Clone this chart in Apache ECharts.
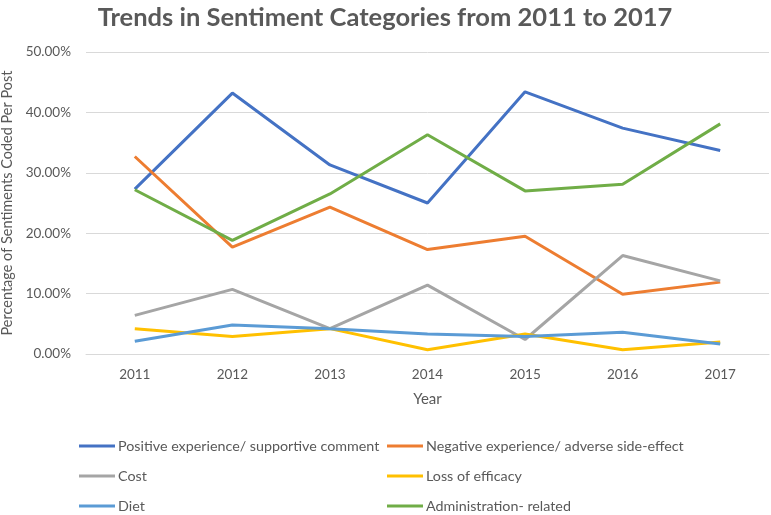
<!DOCTYPE html>
<html>
<head>
<meta charset="utf-8">
<script src="https://cdn.jsdelivr.net/npm/echarts@6/dist/echarts.min.js"></script>
<style>html,body{margin:0;padding:0;background:#fff}#c{width:771px;height:515px}</style>
</head>
<body>
<div id="c"></div>
<script>
const years = ['2011','2012','2013','2014','2015','2016','2017'];
const positive = [27.3, 43.2, 31.3, 25.0, 43.4, 37.4, 33.7];
const negative = [32.7, 17.7, 24.3, 17.3, 19.5, 9.9, 11.9];
const cost = [6.4, 10.7, 4.2, 11.4, 2.4, 16.3, 12.1];
const lossEfficacy = [4.2, 2.9, 4.2, 0.7, 3.3, 0.7, 2.0];
const diet = [2.1, 4.8, 4.2, 3.3, 2.9, 3.6, 1.65];
const admin = [27.2, 18.8, 26.5, 36.3, 27.0, 28.1, 38.1];
const names = ['Positive experience/ supportive comment','Negative experience/ adverse side-effect','Cost','Loss of efficacy','Diet','Administration- related'];
const colors = ['#4472C4','#ED7D31','#A5A5A5','#FFC000','#5B9BD5','#70AD47'];
const dataSets = [positive, negative, cost, lossEfficacy, diet, admin];
const font = 'Lato, "Open Sans", sans-serif';
const txt = '#595959';

const chart = echarts.init(document.getElementById('c'));
const legendBase = {
  orient: 'vertical', icon: 'rect', itemWidth: 36, itemHeight: 3, itemGap: 14,
  padding: 0, height: 80,
  textStyle: {fontFamily: font, fontSize: 14.3, lineHeight: 16, color: txt, padding: [0,0,0,-2]},
  selectedMode: false
};
chart.setOption({
  animation: false,
  color: colors,
  title: {
    text: 'Trends in Sentiment Categories from 2011 to 2017',
    left: 380, textAlign: 'center', top: 0,
    textStyle: {fontFamily: font, fontSize: 25.5, fontWeight: 'bold', color: txt}
  },
  grid: {left: 86, right: 2, top: 52, bottom: 161, outerBoundsMode: 'none', containLabel: false},
  legend: [
    Object.assign({}, legendBase, {left: 79, top: 438, data: [names[0], names[2], names[4]]}),
    Object.assign({}, legendBase, {left: 387, top: 438, data: [names[1], names[3], names[5]]})
  ],
  xAxis: {
    type: 'category', data: years, boundaryGap: true,
    name: 'Year', nameLocation: 'middle', nameGap: 38,
    nameTextStyle: {fontFamily: font, fontSize: 15, color: txt},
    axisLine: {lineStyle: {color: '#d9d9d9'}},
    axisTick: {show: false},
    axisLabel: {fontFamily: font, fontSize: 13.5, color: txt, margin: 14}
  },
  yAxis: {
    type: 'value', min: 0, max: 50, interval: 10,
    name: 'Percentage of Sentiments Coded Per Post', nameLocation: 'middle', nameGap: 70,
    nameTextStyle: {fontFamily: font, fontSize: 14.5, color: txt},
    axisLine: {show: false}, axisTick: {show: false},
    splitLine: {lineStyle: {color: '#d9d9d9'}},
    axisLabel: {fontFamily: font, fontSize: 13.5, color: txt, margin: 15,
      formatter: v => v.toFixed(2) + '%'}
  },
  series: dataSets.map((d, i) => ({
    name: names[i], type: 'line', data: d, symbol: 'none',
    lineStyle: {width: 3, color: colors[i]}, itemStyle: {color: colors[i]}
  }))
});
</script>
</body>
</html>
